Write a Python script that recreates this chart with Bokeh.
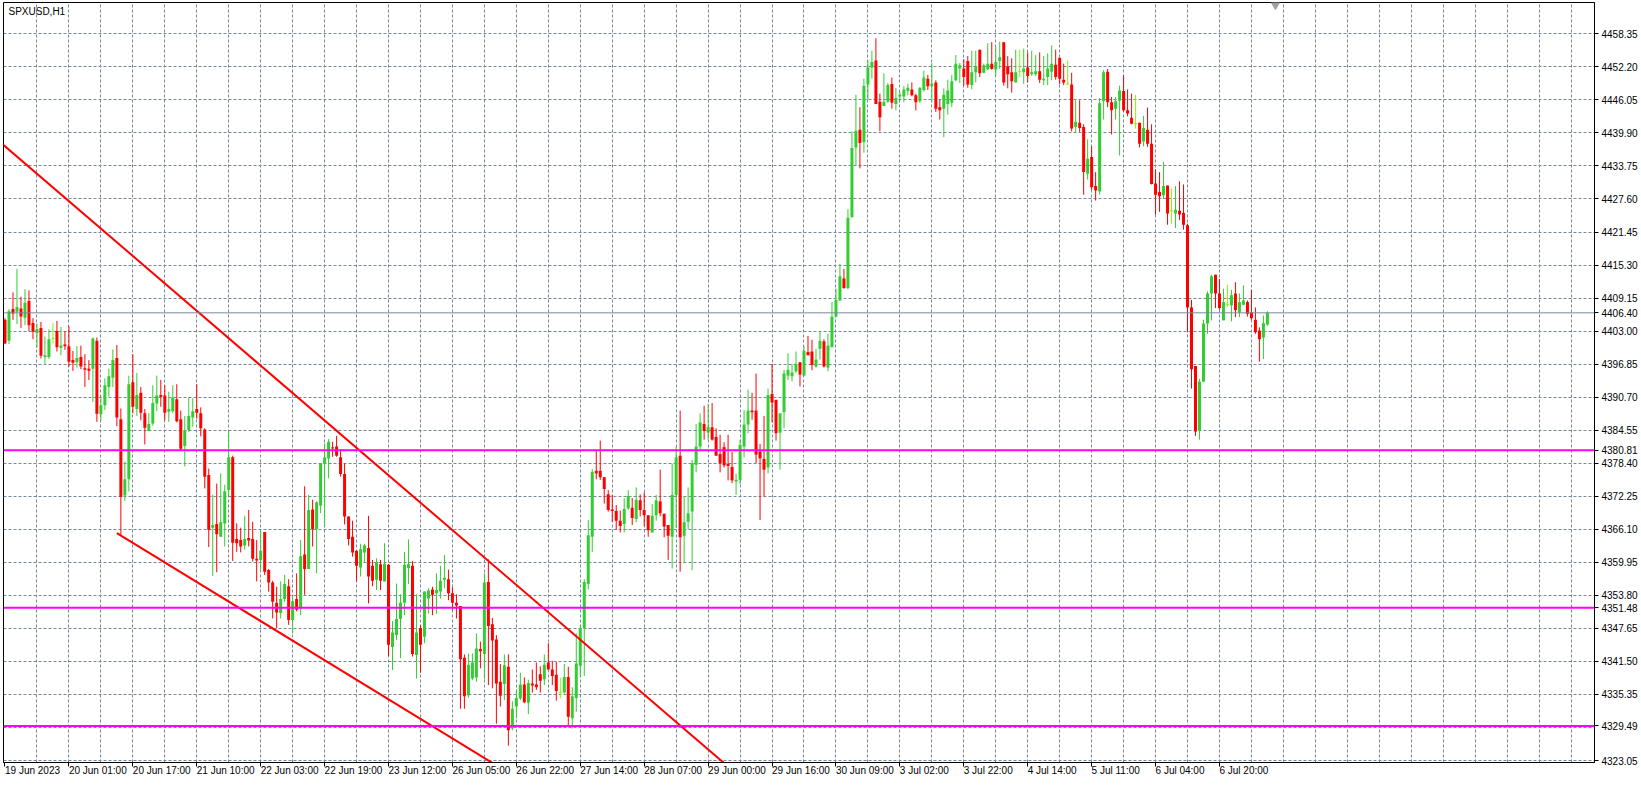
from bokeh.plotting import figure
from bokeh.models import (Range1d, FixedTicker, PrintfTickFormatter, Span, Label,
                          ColumnDataSource, LinearAxis)
from bokeh.embed import file_html
from bokeh.resources import INLINE

symbol = "SPXUSD,H1"

opens = [4405.1, 4401.2, 4407.1, 4406.6, 4407.2, 4405.5, 4408.6, 4404.5, 4402.6, 4403.6,
         4398.2, 4398.2, 4401.6, 4403.0, 4399.9, 4400.5, 4400.2, 4397.6, 4397.2, 4398.2,
         4396.1, 4396.0, 4396.0, 4401.2, 4387.5, 4389.2, 4392.6, 4394.3, 4398.0, 4386.6,
         4372.4, 4375.4, 4393.5, 4388.5, 4391.5, 4387.7, 4384.4, 4385.8, 4389.5, 4391.1,
         4391.0, 4388.0, 4388.1, 4390.3, 4386.6, 4381.6, 4384.6, 4386.9, 4388.5, 4387.7,
         4384.7, 4376.2, 4366.4, 4367.1, 4364.7, 4367.2, 4373.4, 4379.5, 4364.3, 4364.1,
         4363.1, 4364.5, 4364.3, 4360.6, 4360.4, 4365.6, 4358.5, 4356.2, 4352.4, 4350.5,
         4353.1, 4355.5, 4349.2, 4353.1, 4351.4, 4361.4, 4358.7, 4369.8, 4366.1, 4370.5,
         4378.3, 4379.3, 4381.3, 4381.5, 4379.5, 4376.4, 4368.5, 4364.7, 4362.1, 4359.0,
         4361.8, 4362.6, 4359.3, 4356.7, 4359.6, 4356.4, 4359.5, 4344.2, 4346.4, 4349.4,
         4352.4, 4358.9, 4359.3, 4342.7, 4347.7, 4346.1, 4353.2, 4354.9, 4354.2, 4354.5,
         4356.7, 4356.8, 4354.2, 4352.4, 4351.8, 4342.2, 4335.2, 4338.3, 4338.5, 4343.8,
         4342.9, 4356.3, 4348.4, 4345.6, 4337.7, 4337.3, 4340.5, 4329.0, 4333.1, 4334.6,
         4337.2, 4333.8, 4337.4, 4337.2, 4339.1, 4338.2, 4341.3, 4340.0, 4339.0, 4335.7,
         4335.7, 4338.6, 4330.9, 4334.7, 4340.7, 4347.7, 4355.9, 4364.7, 4377.0, 4377.0,
         4375.8, 4372.6, 4369.8, 4369.5, 4367.7, 4367.1, 4370.0, 4370.1, 4368.0, 4371.5,
         4369.7, 4368.7, 4365.5, 4368.7, 4371.3, 4369.0, 4366.9, 4364.7, 4372.5, 4379.8,
         4364.9, 4367.5, 4369.4, 4378.1, 4381.5, 4385.7, 4384.1, 4385.1, 4383.3, 4380.1,
         4381.4, 4378.3, 4377.7, 4375.0, 4375.3, 4381.5, 4385.6, 4388.2, 4388.2, 4380.6,
         4379.2, 4377.6, 4391.3, 4390.2, 4384.1, 4387.9, 4394.7, 4394.6, 4395.5, 4397.2,
         4394.7, 4399.1, 4399.2, 4396.4, 4399.7, 4401.1, 4396.2, 4400.0, 4405.7, 4408.7,
         4412.8, 4411.0, 4424.2, 4437.2, 4440.5, 4438.2, 4448.9, 4452.1, 4453.4, 4445.7,
         4444.9, 4445.7, 4449.0, 4445.3, 4446.7, 4446.7, 4447.7, 4448.0, 4446.9, 4445.8,
         4447.9, 4450.0, 4448.6, 4449.3, 4444.7, 4444.4, 4445.3, 4445.5, 4449.7, 4451.9,
         4451.9, 4453.3, 4448.8, 4451.2, 4455.4, 4451.1, 4451.7, 4452.8, 4451.7, 4453.3,
         4456.8, 4452.3, 4451.2, 4449.3, 4451.4, 4451.2, 4452.1, 4450.8, 4450.8, 4451.4,
         4449.7, 4450.3, 4451.3, 4452.6, 4453.9, 4449.8, 4449.0, 4448.9, 4441.0, 4441.8,
         4441.0, 4432.3, 4435.4, 4430.0, 4429.0, 4445.8, 4451.3, 4445.6, 4444.4, 4445.9,
         4447.7, 4444.1, 4442.7, 4441.6, 4441.8, 4438.3, 4440.5, 4437.9, 4430.5, 4428.9,
         4428.3, 4430.1, 4425.4, 4424.9, 4425.4, 4425.0, 4422.7, 4407.4, 4396.5, 4384.5,
         4393.6, 4404.4, 4410.0, 4413.5, 4410.0, 4405.0, 4408.0, 4407.8, 4410.0, 4406.5,
         4407.9, 4408.4, 4406.5, 4405.1, 4403.1, 4401.8, 4404.2]

highs = [4405.4, 4407.1, 4410.2, 4414.6, 4409.4, 4410.8, 4410.6, 4405.4, 4404.4, 4404.7,
         4402.0, 4403.3, 4404.5, 4404.9, 4403.8, 4403.0, 4403.9, 4399.3, 4400.2, 4400.3,
         4398.7, 4397.6, 4401.8, 4401.8, 4390.8, 4394.2, 4396.0, 4399.6, 4400.4, 4388.6,
         4378.7, 4394.7, 4398.7, 4395.2, 4392.6, 4388.5, 4387.7, 4392.9, 4394.7, 4393.9,
         4392.9, 4391.7, 4392.9, 4393.1, 4388.2, 4387.2, 4390.6, 4390.5, 4393.1, 4388.8,
         4384.9, 4377.4, 4372.5, 4374.6, 4376.5, 4374.4, 4384.3, 4379.8, 4367.2, 4366.4,
         4368.6, 4369.7, 4367.5, 4364.1, 4365.8, 4365.6, 4358.7, 4356.5, 4355.4, 4356.4,
         4357.6, 4356.8, 4353.6, 4357.9, 4364.1, 4374.1, 4372.5, 4371.6, 4371.3, 4378.4,
         4382.1, 4382.9, 4382.4, 4383.5, 4381.0, 4378.4, 4368.5, 4367.7, 4362.1, 4363.4,
         4363.4, 4368.6, 4360.4, 4360.7, 4360.4, 4363.5, 4359.6, 4349.0, 4356.0, 4354.0,
         4361.9, 4364.2, 4360.2, 4354.0, 4348.3, 4354.5, 4355.1, 4355.4, 4357.9, 4359.3,
         4361.3, 4358.6, 4355.3, 4354.0, 4351.8, 4342.8, 4343.0, 4343.0, 4346.7, 4345.2,
         4357.9, 4360.5, 4349.6, 4346.4, 4341.0, 4342.8, 4342.8, 4334.1, 4336.2, 4339.4,
         4338.5, 4338.1, 4340.0, 4341.3, 4340.6, 4342.8, 4344.9, 4341.6, 4341.4, 4338.5,
         4341.0, 4340.5, 4336.7, 4346.7, 4348.3, 4356.8, 4367.8, 4377.3, 4380.9, 4382.6,
         4375.8, 4373.4, 4372.5, 4370.6, 4369.6, 4371.9, 4373.4, 4371.9, 4373.9, 4372.6,
         4373.0, 4368.7, 4370.8, 4372.5, 4377.2, 4369.0, 4366.9, 4378.3, 4381.5, 4388.2,
         4372.2, 4373.9, 4379.0, 4385.7, 4387.7, 4389.1, 4389.4, 4389.6, 4384.9, 4383.7,
         4382.3, 4383.7, 4380.5, 4376.4, 4382.8, 4388.3, 4392.1, 4391.5, 4395.1, 4382.0,
         4387.2, 4392.3, 4396.9, 4390.2, 4387.7, 4395.8, 4398.9, 4396.9, 4399.2, 4397.2,
         4400.2, 4402.1, 4401.4, 4399.7, 4402.9, 4401.5, 4402.5, 4408.4, 4410.9, 4415.5,
         4414.6, 4425.7, 4440.2, 4447.0, 4444.7, 4450.0, 4453.4, 4455.2, 4457.5, 4447.2,
         4451.0, 4449.2, 4450.2, 4448.3, 4447.5, 4448.6, 4449.1, 4449.3, 4447.2, 4448.4,
         4451.5, 4450.7, 4452.9, 4449.7, 4446.1, 4448.2, 4449.8, 4450.7, 4454.4, 4452.9,
         4453.6, 4454.2, 4455.2, 4455.2, 4455.4, 4452.8, 4456.6, 4456.8, 4455.9, 4456.9,
         4456.8, 4454.2, 4453.8, 4455.4, 4455.4, 4455.6, 4454.9, 4455.2, 4454.4, 4454.9,
         4454.2, 4454.7, 4456.2, 4455.4, 4453.9, 4452.8, 4453.4, 4451.1, 4446.2, 4446.0,
         4441.5, 4438.7, 4437.4, 4432.6, 4446.4, 4451.6, 4451.8, 4446.6, 4446.6, 4448.7,
         4450.6, 4448.0, 4447.2, 4447.0, 4441.8, 4443.1, 4444.6, 4441.5, 4433.1, 4432.6,
         4434.5, 4430.1, 4429.5, 4430.0, 4430.9, 4430.3, 4423.0, 4408.8, 4396.5, 4394.1,
         4405.1, 4410.4, 4413.5, 4413.5, 4412.7, 4410.9, 4411.6, 4410.7, 4412.1, 4410.0,
         4411.5, 4408.7, 4410.7, 4407.4, 4403.7, 4405.9, 4406.7]

lows = [4400.6, 4400.6, 4405.1, 4404.3, 4403.6, 4404.1, 4403.0, 4401.5, 4399.9, 4397.9,
        4396.9, 4397.8, 4400.7, 4399.2, 4398.5, 4399.5, 4396.4, 4395.6, 4396.2, 4395.9,
        4392.6, 4393.9, 4389.8, 4386.1, 4386.4, 4388.3, 4390.8, 4392.6, 4385.3, 4365.0,
        4371.4, 4373.1, 4387.7, 4387.2, 4386.4, 4381.9, 4384.4, 4385.4, 4388.1, 4388.9,
        4386.4, 4386.1, 4387.7, 4386.0, 4380.8, 4377.8, 4384.2, 4385.2, 4386.7, 4383.4,
        4373.7, 4362.8, 4357.4, 4358.1, 4364.7, 4362.9, 4372.2, 4360.2, 4361.9, 4361.8,
        4362.3, 4362.9, 4360.1, 4356.4, 4358.4, 4357.6, 4354.5, 4349.5, 4347.7, 4349.5,
        4352.6, 4348.3, 4346.7, 4350.8, 4350.1, 4353.9, 4358.7, 4362.9, 4357.9, 4369.1,
        4366.7, 4375.6, 4379.6, 4379.6, 4375.9, 4367.0, 4363.1, 4361.0, 4356.5, 4357.3,
        4359.9, 4352.3, 4355.5, 4354.8, 4354.8, 4356.4, 4342.5, 4339.9, 4345.5, 4342.1,
        4350.1, 4355.9, 4342.4, 4338.3, 4339.4, 4344.9, 4350.4, 4350.1, 4350.4, 4353.2,
        4355.1, 4352.9, 4351.1, 4349.5, 4332.7, 4332.7, 4334.7, 4338.0, 4337.7, 4340.2,
        4338.2, 4337.1, 4336.5, 4329.9, 4333.1, 4334.3, 4325.8, 4328.7, 4330.9, 4334.3,
        4333.7, 4331.7, 4335.7, 4336.2, 4335.7, 4337.1, 4340.0, 4337.1, 4334.2, 4334.6,
        4335.5, 4329.6, 4329.0, 4332.1, 4338.6, 4338.8, 4354.9, 4361.9, 4375.4, 4375.3,
        4370.9, 4369.4, 4367.5, 4366.0, 4365.5, 4365.5, 4369.7, 4366.9, 4367.4, 4368.5,
        4366.7, 4364.7, 4365.5, 4367.7, 4368.5, 4364.6, 4360.4, 4358.8, 4366.3, 4358.2,
        4359.8, 4366.1, 4358.5, 4376.7, 4381.0, 4382.8, 4382.8, 4382.6, 4379.8, 4376.7,
        4377.6, 4375.2, 4374.7, 4372.5, 4374.5, 4379.5, 4384.0, 4386.5, 4378.4, 4367.8,
        4372.2, 4376.5, 4386.0, 4382.6, 4377.2, 4384.9, 4393.9, 4393.6, 4395.2, 4392.7,
        4394.7, 4398.5, 4395.7, 4396.2, 4397.7, 4396.2, 4395.5, 4400.0, 4405.6, 4408.7,
        4410.9, 4410.8, 4424.2, 4433.9, 4433.3, 4436.2, 4446.1, 4450.0, 4445.3, 4440.2,
        4444.9, 4445.5, 4444.4, 4444.1, 4445.9, 4445.6, 4446.9, 4446.7, 4444.1, 4445.5,
        4447.6, 4447.9, 4445.6, 4443.8, 4442.4, 4439.1, 4443.3, 4444.7, 4449.5, 4449.2,
        4448.7, 4448.3, 4448.0, 4449.3, 4450.3, 4451.0, 4451.7, 4451.7, 4450.5, 4451.8,
        4448.7, 4448.2, 4447.4, 4449.3, 4450.3, 4449.0, 4449.3, 4450.5, 4450.5, 4449.2,
        4448.8, 4448.8, 4449.7, 4449.8, 4449.0, 4448.8, 4448.8, 4440.2, 4439.9, 4440.1,
        4428.4, 4431.2, 4429.3, 4427.3, 4428.4, 4442.4, 4444.7, 4439.6, 4442.4, 4435.7,
        4443.9, 4443.0, 4441.5, 4440.7, 4437.2, 4437.4, 4437.3, 4430.3, 4424.7, 4425.2,
        4427.6, 4422.8, 4423.0, 4422.2, 4423.7, 4421.9, 4402.9, 4392.3, 4383.5, 4382.8,
        4393.5, 4402.5, 4405.0, 4407.3, 4407.0, 4405.0, 4407.6, 4404.8, 4405.6, 4405.6,
        4407.8, 4405.7, 4405.1, 4402.5, 4397.3, 4397.8, 4404.0]

closes = [4400.7, 4406.7, 4406.3, 4407.5, 4405.7, 4408.3, 4404.1, 4402.9, 4403.4, 4398.4,
          4398.5, 4401.5, 4401.6, 4400.0, 4400.3, 4400.2, 4397.3, 4397.1, 4398.0, 4396.4,
          4395.8, 4395.6, 4401.6, 4387.6, 4389.2, 4392.9, 4394.6, 4397.6, 4386.9, 4372.1,
          4375.4, 4393.1, 4388.9, 4391.1, 4387.8, 4385.0, 4385.7, 4389.6, 4391.0, 4390.8,
          4387.8, 4388.5, 4390.6, 4386.2, 4381.1, 4384.6, 4387.2, 4388.1, 4387.8, 4384.9,
          4375.9, 4366.0, 4366.9, 4365.2, 4367.4, 4373.2, 4379.5, 4363.6, 4363.5, 4362.9,
          4364.3, 4364.0, 4360.6, 4360.3, 4362.1, 4358.2, 4356.2, 4352.6, 4350.6, 4353.1,
          4355.9, 4349.2, 4352.7, 4351.1, 4361.1, 4358.7, 4369.7, 4366.1, 4371.1, 4378.4,
          4379.5, 4382.4, 4381.2, 4379.8, 4376.4, 4368.5, 4364.3, 4361.8, 4359.3, 4362.4,
          4363.1, 4357.3, 4356.5, 4360.0, 4356.5, 4359.7, 4344.6, 4346.9, 4349.4, 4352.4,
          4359.5, 4359.6, 4342.9, 4346.9, 4344.6, 4354.5, 4354.7, 4353.9, 4354.8, 4356.5,
          4357.1, 4354.2, 4352.4, 4351.9, 4341.9, 4335.0, 4340.9, 4341.3, 4343.9, 4343.4,
          4356.2, 4348.1, 4345.4, 4337.4, 4335.1, 4340.8, 4328.7, 4332.7, 4334.7, 4337.2,
          4333.9, 4337.5, 4337.0, 4336.7, 4337.9, 4340.9, 4340.0, 4338.8, 4336.0, 4335.7,
          4338.6, 4331.2, 4335.0, 4341.1, 4347.7, 4356.3, 4365.0, 4376.8, 4376.5, 4375.8,
          4373.6, 4369.7, 4369.5, 4367.7, 4366.7, 4369.9, 4372.3, 4368.2, 4371.6, 4369.7,
          4368.7, 4365.9, 4368.6, 4371.5, 4369.1, 4366.6, 4364.9, 4372.5, 4379.5, 4364.6,
          4367.4, 4369.1, 4378.4, 4381.5, 4386.0, 4384.4, 4385.1, 4382.8, 4379.8, 4378.4,
          4378.0, 4377.9, 4375.2, 4375.3, 4381.8, 4385.6, 4388.2, 4387.9, 4380.0, 4379.3,
          4377.2, 4391.1, 4389.7, 4384.0, 4387.7, 4395.1, 4395.8, 4395.3, 4396.9, 4394.9,
          4399.3, 4398.5, 4396.7, 4397.7, 4401.2, 4396.4, 4400.3, 4405.7, 4408.8, 4413.2,
          4411.0, 4424.1, 4437.1, 4440.3, 4438.0, 4448.7, 4452.1, 4453.1, 4445.3, 4442.8,
          4445.7, 4448.8, 4445.5, 4446.4, 4447.0, 4448.0, 4448.3, 4446.9, 4445.6, 4448.3,
          4450.2, 4448.6, 4449.1, 4444.4, 4444.1, 4447.0, 4447.8, 4449.5, 4452.8, 4452.5,
          4450.3, 4448.9, 4451.2, 4452.3, 4451.0, 4452.5, 4452.8, 4451.8, 4453.1, 4454.0,
          4449.3, 4450.8, 4449.5, 4451.2, 4451.4, 4451.9, 4450.5, 4451.2, 4451.4, 4449.8,
          4450.0, 4451.9, 4452.8, 4450.3, 4450.0, 4449.3, 4449.0, 4440.7, 4442.0, 4440.8,
          4432.6, 4435.1, 4429.8, 4429.2, 4445.4, 4451.2, 4445.6, 4444.1, 4445.8, 4447.8,
          4444.1, 4443.5, 4441.6, 4441.6, 4437.9, 4440.8, 4437.9, 4430.4, 4428.4, 4428.1,
          4430.0, 4424.9, 4425.4, 4425.6, 4424.7, 4422.8, 4407.4, 4395.9, 4384.3, 4393.6,
          4404.4, 4410.0, 4413.2, 4410.0, 4407.3, 4408.4, 4408.0, 4409.7, 4406.9, 4408.4,
          4408.7, 4406.2, 4405.4, 4402.8, 4401.5, 4404.5, 4406.4]

x_tick_labels = ["19 Jun 2023", "20 Jun 01:00", "20 Jun 17:00", "21 Jun 10:00",
                 "22 Jun 03:00", "22 Jun 19:00", "23 Jun 12:00", "26 Jun 05:00",
                 "26 Jun 22:00", "27 Jun 14:00", "28 Jun 07:00", "29 Jun 00:00",
                 "29 Jun 16:00", "30 Jun 09:00", "3 Jul 02:00", "3 Jul 22:00",
                 "4 Jul 14:00", "5 Jul 11:00", "6 Jul 04:00", "6 Jul 20:00"]
bars_per_label = 16
bars_per_grid = 8

price_ticks = [4323.05, 4329.20, 4335.35, 4341.50, 4347.65, 4353.80, 4359.95, 4366.10,
               4372.25, 4378.40, 4384.55, 4390.70, 4396.85, 4403.00, 4409.15, 4415.30,
               4421.45, 4427.60, 4433.75, 4439.90, 4446.05, 4452.20, 4458.35]

level_prices = [4380.81, 4351.48, 4329.49]
current_price = 4406.40

upper_trend_bars = [0, 158]
upper_trend_prices = [4437.4, 4336.6]
lower_trend_bars = [28, 104]
lower_trend_prices = [4365.4, 4330.8]

# ---------------------------------------------------------------- layout
W, H = 1640, 784
LEFT, TOP, RIGHT, BOTTOM = 3, 2, 44, 22
frame_w = W - LEFT - RIGHT
frame_h = H - TOP - BOTTOM
px_per_bar = 4.0
px_per_price = 5.371
x_start = -1.5 / px_per_bar
x_end = x_start + frame_w / px_per_bar
y_start = 4322.68
y_end = y_start + frame_h / px_per_price

GREEN = "#32CD32"
RED = "#FF0000"
DOJI = "#7CFC00"
GRID = "#778899"
MAGENTA = "#FF00FF"
FONT = "Liberation Sans"

p = figure(width=W, height=H, x_range=Range1d(x_start, x_end),
           y_range=Range1d(y_start, y_end), output_backend="svg",
           toolbar_location=None, y_axis_location="right",
           min_border_left=LEFT, min_border_top=TOP, min_border_right=RIGHT,
           min_border_bottom=BOTTOM)
p.background_fill_color = "white"
p.border_fill_color = "white"
p.outline_line_color = "black"
p.outline_line_width = 1
p.outline_line_alpha = 1.0

props = LinearAxis.properties()
boxed = "major_label_background_fill_color" in props

# right price axis
specials = level_prices + [current_price]
covered = [t for t in price_ticks if any(abs(t - s) <= 1.5 for s in specials)]
regular = [t for t in price_ticks if t not in covered]
ya = p.yaxis[0]
ya.ticker = FixedTicker(ticks=regular if boxed else sorted(regular + specials))
ya.formatter = PrintfTickFormatter(format="%.2f")
ya.major_label_text_font = FONT
ya.major_label_text_font_size = "10px"
ya.major_label_text_color = "black"
ya.major_tick_out = 4
ya.major_tick_in = 0
ya.minor_tick_out = 0
ya.minor_tick_in = 0
ya.major_label_standoff = 3
ya.axis_line_color = "black"
ya.major_tick_line_color = "black"

if boxed:
    # marked prices: white text on a coloured box, drawn over the price scale
    def marker_axis(ticks, bg):
        ax = LinearAxis(ticker=FixedTicker(ticks=ticks),
                        formatter=PrintfTickFormatter(format="%.2f"))
        ax.axis_line_color = None
        ax.major_tick_line_color = None
        ax.minor_tick_line_color = None
        ax.major_tick_out = 0
        ax.major_tick_in = 0
        ax.minor_tick_out = 0
        ax.minor_tick_in = 0
        ax.major_label_standoff = -40
        ax.major_label_text_font = FONT
        ax.major_label_text_font_size = "10px"
        ax.major_label_text_color = "white"
        ax.major_label_background_fill_color = bg
        ax.major_label_background_fill_alpha = 1.0
        if "major_label_padding" in props:
            ax.major_label_padding = 1
        p.add_layout(ax, "right")

    marker_axis(level_prices, MAGENTA)
    marker_axis([current_price], "black")

# time axis: labels start at their tick (left aligned)
n = len(closes)
x_tick_bars = [k * bars_per_label for k in range(len(x_tick_labels))]
xa = p.xaxis[0]
xa.ticker = FixedTicker(ticks=x_tick_bars)
xa.major_label_overrides = {b: t for b, t in zip(x_tick_bars, x_tick_labels)}
xa.major_label_orientation = -0.0001
xa.major_label_text_font = FONT
xa.major_label_text_font_size = "10px"
xa.major_label_text_color = "black"
xa.major_label_standoff = 4
xa.major_tick_out = 4
xa.major_tick_in = 0
xa.minor_tick_out = 0
xa.minor_tick_in = 0
xa.axis_line_color = "black"
xa.major_tick_line_color = "black"

# grid
p.xgrid.ticker = FixedTicker(ticks=list(range(bars_per_grid, 400, bars_per_grid)))
p.ygrid.ticker = FixedTicker(ticks=price_ticks)
for g in (p.xgrid[0], p.ygrid[0]):
    g.grid_line_color = GRID
    g.grid_line_dash = "3 2"
    g.grid_line_width = 1
    g.grid_line_alpha = 1.0

# candles
xs = list(range(n))
colors, tops, bottoms = [], [], []
min_body = 1.0 / px_per_price
for o, c in zip(opens, closes):
    if c > o:
        colors.append(GREEN)
    elif c < o:
        colors.append(RED)
    else:
        colors.append(DOJI)
    t, b = max(o, c), min(o, c)
    if t - b < min_body:
        mid = (t + b) / 2
        t, b = mid + min_body / 2, mid - min_body / 2
    tops.append(t)
    bottoms.append(b)

src = ColumnDataSource(dict(x=xs, h=highs, l=lows, top=tops, bottom=bottoms, color=colors))
p.segment(x0="x", y0="l", x1="x", y1="h", line_color="color", line_width=1, source=src)
p.vbar(x="x", width=0.75, top="top", bottom="bottom", fill_color="color",
       line_color=None, source=src)

# trend lines (rays extended across the chart)
def extend(bx, py, x0, x1):
    slope = (py[1] - py[0]) / (bx[1] - bx[0])
    return [x0, x1], [py[0] + slope * (x0 - bx[0]), py[0] + slope * (x1 - bx[0])]

ux, uy = extend(upper_trend_bars, upper_trend_prices, -3, 240)
lx, ly = extend(lower_trend_bars, lower_trend_prices, lower_trend_bars[0], 160)
p.line(ux, uy, line_color=RED, line_width=2)
p.line(lx, ly, line_color=RED, line_width=2)

# horizontal levels
p.add_layout(Span(location=current_price, dimension="width", line_color=GRID, line_width=1))
for lp in level_prices:
    p.add_layout(Span(location=lp, dimension="width", line_color=MAGENTA, line_width=2))

# chart-shift marker
p.scatter([n + 1], [y_end - 2.5 / px_per_price], marker="inverted_triangle", size=8,
          color="#A0A0A0")

# symbol caption
p.add_layout(Label(x=x_start, y=y_end - 3.5 / px_per_price, x_offset=5, text=symbol,
                   text_baseline="top", text_align="left", text_font=FONT,
                   text_font_size="10px", text_color="black"))

open("out.html", "w").write(file_html(p, INLINE))
